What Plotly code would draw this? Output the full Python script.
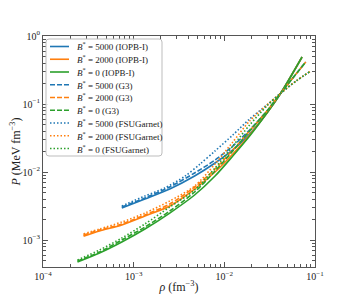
import plotly.graph_objects as go

# ---- data ----
rho_iopb_b0 = [2.4e-4, 4.2e-4, 7.4e-4, 1.33e-3, 2.5e-3, 4.7e-3, 7.9e-3, 1.24e-2, 1.9e-2, 2.95e-2, 4.2e-2, 7.2e-2]
p_iopb_b0 = [4.75e-4, 6.44e-4, 9.35e-4, 1.45e-3, 2.49e-3, 4.59e-3, 8.73e-3, 1.72e-2, 3.38e-2, 7.37e-2, 0.145, 0.491]

rho_iopb_b2000 = [2.8e-4, 4.2e-4, 7.4e-4, 1.33e-3, 2.5e-3, 4.7e-3, 7.9e-3, 1.24e-2, 1.9e-2, 2.95e-2, 4.2e-2, 7.2e-2]
p_iopb_b2000 = [1.14e-3, 1.36e-3, 1.66e-3, 2.25e-3, 3.16e-3, 5.62e-3, 1.0e-2, 1.84e-2, 3.50e-2, 7.37e-2, 0.145, 0.491]

rho_iopb_b5000 = [7.4e-4, 1.33e-3, 2.5e-3, 4.7e-3, 7.9e-3, 1.24e-2, 1.9e-2, 2.95e-2, 4.2e-2, 7.2e-2]
p_iopb_b5000 = [2.96e-3, 4.01e-3, 5.62e-3, 8.73e-3, 1.356e-2, 2.11e-2, 3.62e-2, 7.37e-2, 0.145, 0.491]

rho_g3_b0 = [2.4e-4, 4.2e-4, 7.4e-4, 1.33e-3, 2.5e-3, 4.7e-3, 7.9e-3, 1.24e-2, 1.9e-2, 2.95e-2, 4.2e-2, 7.9e-2]
p_g3_b0 = [4.91e-4, 6.66e-4, 1.0e-3, 1.55e-3, 2.67e-3, 5.08e-3, 1.034e-2, 2.04e-2, 4.01e-2, 7.89e-2, 0.145, 0.415]

rho_g3_b2000 = [2.8e-4, 4.2e-4, 7.4e-4, 1.33e-3, 2.5e-3, 4.7e-3, 7.9e-3, 1.24e-2, 1.9e-2, 2.95e-2, 4.2e-2, 7.9e-2]
p_g3_b2000 = [1.18e-3, 1.40e-3, 1.72e-3, 2.33e-3, 3.38e-3, 6.02e-3, 1.107e-2, 2.11e-2, 4.01e-2, 7.89e-2, 0.145, 0.415]

rho_g3_b5000 = [7.4e-4, 1.33e-3, 2.5e-3, 4.7e-3, 7.9e-3, 1.24e-2, 1.9e-2, 2.95e-2, 4.2e-2, 7.9e-2]
p_g3_b5000 = [3.06e-3, 4.15e-3, 6.02e-3, 9.67e-3, 1.50e-2, 2.41e-2, 4.15e-2, 7.89e-2, 0.145, 0.415]

rho_fsu_b0 = [2.4e-4, 4.2e-4, 7.4e-4, 1.33e-3, 2.5e-3, 4.7e-3, 7.9e-3, 1.24e-2, 1.9e-2, 2.95e-2, 4.2e-2, 6.2e-2, 9.0e-2]
p_fsu_b0 = [5.08e-4, 7.13e-4, 1.07e-3, 1.72e-3, 3.06e-3, 5.44e-3, 1.145e-2, 2.41e-2, 4.91e-2, 9.35e-2, 0.145, 0.218, 0.306]

rho_fsu_b2000 = [2.8e-4, 4.2e-4, 7.4e-4, 1.33e-3, 2.5e-3, 4.7e-3, 7.9e-3, 1.24e-2, 1.9e-2, 2.95e-2, 4.2e-2, 6.2e-2, 9.0e-2]
p_fsu_b2000 = [1.23e-3, 1.45e-3, 1.84e-3, 2.49e-3, 3.75e-3, 6.22e-3, 1.311e-2, 2.76e-2, 5.62e-2, 9.67e-2, 0.145, 0.218, 0.306]

rho_fsu_b5000 = [7.4e-4, 1.33e-3, 2.2e-3, 3.7e-3, 5.4e-3, 7.9e-3, 1.24e-2, 1.9e-2, 2.95e-2, 4.2e-2, 6.2e-2, 9.0e-2]
p_fsu_b5000 = [3.16e-3, 4.44e-3, 5.82e-3, 8.73e-3, 1.311e-2, 2.04e-2, 3.50e-2, 6.02e-2, 9.67e-2, 0.145, 0.218, 0.306]

series_names = [
    "<i>B</i><sup>*</sup> = 5000 (IOPB-I)",
    "<i>B</i><sup>*</sup> = 2000 (IOPB-I)",
    "<i>B</i><sup>*</sup> = 0 (IOPB-I)",
    "<i>B</i><sup>*</sup> = 5000 (G3)",
    "<i>B</i><sup>*</sup> = 2000 (G3)",
    "<i>B</i><sup>*</sup> = 0 (G3)",
    "<i>B</i><sup>*</sup> = 5000 (FSUGarnet)",
    "<i>B</i><sup>*</sup> = 2000 (FSUGarnet)",
    "<i>B</i><sup>*</sup> = 0 (FSUGarnet)",
]
series_x = [rho_iopb_b5000, rho_iopb_b2000, rho_iopb_b0,
            rho_g3_b5000, rho_g3_b2000, rho_g3_b0,
            rho_fsu_b5000, rho_fsu_b2000, rho_fsu_b0]
series_y = [p_iopb_b5000, p_iopb_b2000, p_iopb_b0,
            p_g3_b5000, p_g3_b2000, p_g3_b0,
            p_fsu_b5000, p_fsu_b2000, p_fsu_b0]

x_tickvals = [1e-4, 1e-3, 1e-2, 1e-1]
x_ticktext = ["10<sup>−4</sup>", "10<sup>−3</sup>", "10<sup>−2</sup>", "10<sup>−1</sup>"]
y_tickvals = [1e-3, 1e-2, 1e-1, 1e0]
y_ticktext = ["10<sup>−3</sup>", "10<sup>−2</sup>", "10<sup>−1</sup>", "10<sup>0</sup>"]

colors = ["#1f77b4", "#ff7f0e", "#2ca02c"]
dashes = ["solid", "5px,2px", "1.5px,2px"]

# ---- layout geometry (figure drawn inside page with 8px body margin) ----
W, H = 342, 292
ML, MR, MT, MB = 35, 35, 28, 33
PW, PH = W - ML - MR, H - MT - MB


def px(xp):  # plot-area pixel -> paper x
    return xp / PW


def py(yp):  # plot-area pixel (from top) -> paper y
    return 1 - yp / PH


fig = go.Figure()
for i, (name, xs, ys) in enumerate(zip(series_names, series_x, series_y)):
    fig.add_trace(go.Scatter(
        x=xs, y=ys, mode="lines", name=name, showlegend=False,
        line=dict(color=colors[i % 3], width=1.6, dash=dashes[i // 3], shape="spline", smoothing=0.8),
    ))

font_fam = "Liberation Serif, DejaVu Serif, serif"
axis_col = "#555555"

# ---- legend drawn as shapes + text ----
bx0, bx1, by0, by1, r = 3, 119, 3, 120, 3
path = (f"M {px(bx0 + r)} {py(by0)} L {px(bx1 - r)} {py(by0)} Q {px(bx1)} {py(by0)} {px(bx1)} {py(by0 + r)} "
        f"L {px(bx1)} {py(by1 - r)} Q {px(bx1)} {py(by1)} {px(bx1 - r)} {py(by1)} "
        f"L {px(bx0 + r)} {py(by1)} Q {px(bx0)} {py(by1)} {px(bx0)} {py(by1 - r)} "
        f"L {px(bx0)} {py(by0 + r)} Q {px(bx0)} {py(by0)} {px(bx0 + r)} {py(by0)} Z")
shapes = [dict(type="path", path=path, xref="paper", yref="paper",
               fillcolor="rgba(255,255,255,0.85)", line=dict(color="#bdbdbd", width=1), layer="above")]
annotations = []
for i, name in enumerate(series_names):
    yc = 10.5 + 12.75 * i
    shapes.append(dict(type="line", xref="paper", yref="paper",
                       x0=px(7), x1=px(26), y0=py(yc), y1=py(yc), layer="above",
                       line=dict(color=colors[i % 3], width=1.6, dash=dashes[i // 3])))
    annotations.append(dict(text=name, xref="paper", yref="paper", x=px(32), y=py(yc),
                            xanchor="left", yanchor="middle", showarrow=False,
                            font=dict(family=font_fam, size=9, color="#222")))

common = dict(
    type="log", showgrid=False, zeroline=False, automargin=False,
    showline=True, linecolor=axis_col, linewidth=1.2, mirror="allticks",
    ticks="inside", ticklen=5, tickwidth=1, tickcolor=axis_col,
    minor=dict(ticks="inside", ticklen=3, tickwidth=0.8, tickcolor=axis_col, dtick="D1"),
    tickfont=dict(family=font_fam, size=10, color="#222"),
)
fig.update_xaxes(range=[-4, -1], tickvals=x_tickvals, ticktext=x_ticktext,
                 title=dict(text="<i>ρ</i> (fm<sup>−3</sup>)", font=dict(family=font_fam, size=12, color="#222"), standoff=1),
                 **common)
fig.update_yaxes(range=[-3.397, 0], tickvals=y_tickvals, ticktext=y_ticktext,
                 title=dict(text="<i>P</i> (MeV fm<sup>−3</sup>)", font=dict(family=font_fam, size=12, color="#222"), standoff=0),
                 **common)

fig.update_layout(
    width=W, height=H,
    margin=dict(l=ML, r=MR, t=MT, b=MB, autoexpand=False),
    paper_bgcolor="white", plot_bgcolor="white",
    showlegend=False,
    shapes=shapes, annotations=annotations,
)

fig.write_html("out.html")
